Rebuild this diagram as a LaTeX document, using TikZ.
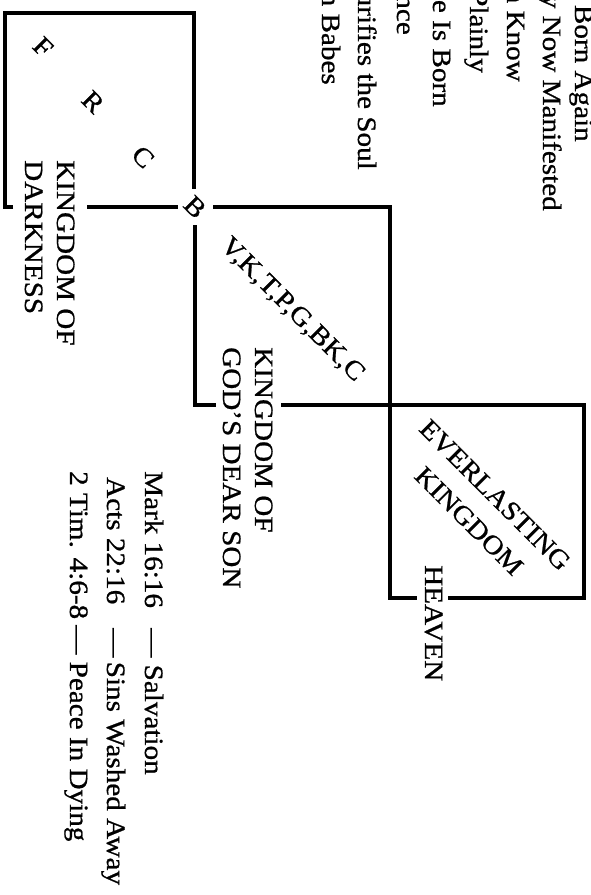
\documentclass[tikz,border=0pt]{standalone}
\usepackage{fontspec}
\setmainfont{Liberation Serif}[FakeStretch=1.1,FakeBold=0.8]
\begin{document}
\begin{tikzpicture}[x=1pt,y=-1pt,
  edge/.style={line width=3.4pt, line join=miter},
  txt/.style={inner sep=0pt, font=\fontsize{26.5}{32}\selectfont},
  down/.style={txt, rotate=-90},
  diag/.style={txt, rotate=-45}]
\useasboundingbox (0,0) rectangle (591,895);
\clip (0,0) rectangle (591,895);

% corners
\coordinate (k1s) at (13,207);
\coordinate (k1bl) at (5,207);
\coordinate (k1tl) at (5,13);
\coordinate (k1tr) at (194,13);
\coordinate (k1r) at (194,189);
\coordinate (k1b1) at (87,207);
\coordinate (k1b2) at (178,207);
\coordinate (k2t) at (213,207);
\coordinate (k2tr) at (390,207);
\coordinate (k3bl) at (390,598);
\coordinate (k3s) at (417,598);
\coordinate (k3b) at (448,598);
\coordinate (k3br) at (584,598);
\coordinate (k3tr) at (584,405);
\coordinate (k2b) at (281,405);
\coordinate (k2l) at (195,225);
\coordinate (k2bl) at (195,405);
\coordinate (k2s) at (216,405);

% box lines
\draw[edge] (k1s) -- (k1bl) -- (k1tl) -- (k1tr) -- (k1r);
\draw[edge] (k1b1) -- (k1b2);
\draw[edge] (k2t) -- (k2tr) -- (k3bl) -- (k3s);
\draw[edge] (k3b) -- (k3br) -- (k3tr) -- (k2b);
\draw[edge] (k2l) -- (k2bl) -- (k2s);

% crossing letter
\node[diag] (bb) at (195,207) {B};

% box 1
\node[diag] (f) at (43,47) {F};
\node[diag] (r) at (93,102) {R};
\node[diag] (c) at (143,157) {C};
\node[down, anchor=base west] (kd1) at (57,160) {KINGDOM OF};
\node[down, anchor=base west] (kd2) at (25,160) {DARKNESS};

% box 2
\node[diag] (vk) at (292,310) {V,K,T,P,G,BK,C};
\node[down, anchor=base west] (ks1) at (255,347) {KINGDOM OF};
\node[down, anchor=base west] (ks2) at (223,347) {GOD'S DEAR SON};

% box 3
\node[diag] (ev1) at (495,495) {EVERLASTING};
\node[diag] (ev2) at (469,521) {KINGDOM};
\node[down, anchor=base west] (hv) at (425,565) {HEAVEN};

% references
\node[down, anchor=base west] (r1a) at (145,471) {Mark 16:16};
\node[down, anchor=base west] (r1b) at (145,628) {— Salvation};
\node[down, anchor=base west] (r2a) at (107,477) {Acts 22:16};
\node[down, anchor=base west] (r2b) at (107,628) {—\,Sins Washed Away};
\node[down, anchor=base west] (r3a) at (70,471) {2 Tim. 4:6-8};
\node[down, anchor=base west] (r3b) at (70,625) {—\;Peace In Dying};

% top right fragments
\node[down, anchor=base east] (t1) at (575,142) {e Born Again};
\node[down, anchor=base east] (t2) at (543,211) {y Now Manifested};
\node[down, anchor=base east] (t3) at (507,82) {n Know};
\node[down, anchor=base east] (t4) at (470,73) {Plainly};
\node[down, anchor=base east] (t5) at (433,107) {e Is Born};
\node[down, anchor=base east] (t6) at (397,35) {nce};
\node[down, anchor=base east] (t7) at (358,170) {urifies the Soul};
\node[down, anchor=base east] (t8) at (322,85) {n Babes};
\end{tikzpicture}
\end{document}
